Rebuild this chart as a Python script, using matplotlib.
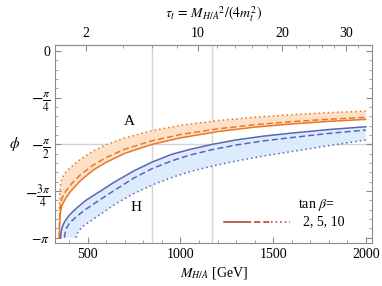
import numpy as np
import matplotlib
matplotlib.use("Agg")
import matplotlib.pyplot as plt
from matplotlib.ticker import MultipleLocator, FixedLocator

plt.rcParams['font.family'] = ['Liberation Serif', 'DejaVu Serif']
plt.rcParams['mathtext.fontset'] = 'stix'

mt = 173.0

# A (pseudoscalar), tan beta = 2 / 5 / 10
M_A = [346, 348, 352, 360, 380, 410, 460, 530, 600, 700, 845, 1000, 1200, 1400, 1600, 1800, 2000]
phi_A2 = [-3.14, -2.9, -2.72, -2.6, -2.48, -2.35, -2.18, -2.0, -1.87, -1.72, -1.571,
          -1.46, -1.355, -1.28, -1.226, -1.183, -1.149]
phi_A5 = [-3.14, -2.8, -2.6, -2.48, -2.36, -2.24, -2.08, -1.917, -1.79, -1.65, -1.51,
          -1.404, -1.308, -1.239, -1.187, -1.147, -1.115]
phi_A10 = [-2.65, -2.42, -2.27, -2.14, -2.04, -1.95, -1.82, -1.68, -1.575, -1.46, -1.34,
           -1.25, -1.17, -1.113, -1.07, -1.036, -1.009]

# H (scalar), tan beta = 2 / 5 / 10
M_H2 = [353, 356, 362, 375, 400, 440, 490, 566, 640, 746, 845, 950, 1050, 1169, 1300, 1450, 1600, 1800, 2000]
phi_H2 = [-3.14, -3.04, -2.96, -2.87, -2.76, -2.64, -2.51, -2.36, -2.21, -2.02, -1.87,
          -1.74, -1.655, -1.571, -1.495, -1.43, -1.38, -1.32, -1.273]
M_H5 = [374, 378, 385, 400, 440, 490, 566, 640, 746, 845, 950, 1050, 1169, 1300, 1450, 1600, 1800, 2000]
phi_H5 = [-3.14, -3.05, -2.98, -2.9, -2.78, -2.66, -2.5, -2.35, -2.14, -1.98, -1.85,
          -1.75, -1.66, -1.58, -1.51, -1.455, -1.385, -1.329]
M_H10 = [437, 442, 452, 470, 500, 566, 650, 746, 850, 950, 1050, 1165, 1300, 1450, 1593, 1800, 2000]
phi_H10 = [-3.14, -3.07, -3.02, -2.96, -2.89, -2.75, -2.57, -2.4, -2.25, -2.13, -2.03,
           -1.94, -1.85, -1.765, -1.694, -1.59, -1.497]

grid_M = [845, 1169]
grid_phi = [-np.pi / 2]

yticks = [0, -np.pi / 4, -np.pi / 2, -3 * np.pi / 4, -np.pi]
ylabels = ['0', r'$-\frac{\pi}{4}$', r'$-\frac{\pi}{2}$', r'$-\frac{3\pi}{4}$', r'$-\pi$']
xticks = [500, 1000, 1500, 2000]
tau_ticks = [2, 10, 20, 30]
tau_minor = [4, 6, 8, 12, 14, 16, 18, 22, 24, 26, 28, 32]

orange = '#e8782a'
orange_fill = '#fde0c6'
blue = '#5a66b4'
blue_fill = '#dcecfc'
frame = '#8c8c8c'

fig = plt.figure(figsize=(3.82, 2.86), dpi=100)
ax = fig.add_axes([0.144, 0.149, 0.830, 0.695])

for g in grid_M:
    ax.axvline(g, color='#d4d4d4', lw=1.0, zorder=0)
for g in grid_phi:
    ax.axhline(g, color='#d4d4d4', lw=1.0, zorder=0)

ax.fill(np.concatenate([M_A, M_A[::-1]]), np.concatenate([phi_A2, phi_A10[::-1]]),
        color=orange_fill, lw=0, zorder=1)
ax.fill(np.concatenate([M_H2, M_H10[::-1]]), np.concatenate([phi_H2, phi_H10[::-1]]),
        color=blue_fill, lw=0, zorder=1)

lw = 1.1
ax.plot(M_A, phi_A2, color=orange, lw=lw, zorder=3)
ax.plot(M_A, phi_A5, color=orange, lw=lw, ls=(0, (4, 2)), zorder=3)
ax.plot(M_A, phi_A10, color=orange, lw=lw, ls=(0, (1, 2)), zorder=3)
ax.plot(M_H2, phi_H2, color=blue, lw=lw, zorder=3)
ax.plot(M_H5, phi_H5, color=blue, lw=lw, ls=(0, (4, 2)), zorder=3)
ax.plot(M_H10, phi_H10, color=blue, lw=lw, ls=(0, (1, 2)), zorder=3)

ax.set_xlim(323, 2034)
ax.set_ylim(-np.pi - 0.094, 0.109)

ax.set_xticks(xticks)
ax.xaxis.set_minor_locator(MultipleLocator(100))
ax.set_yticks(yticks)
ax.set_yticklabels(ylabels)
ax.yaxis.set_minor_locator(MultipleLocator(np.pi / 20))
ax.tick_params(which='both', direction='in', color=frame, top=False, right=True,
               labelsize=10)
ax.tick_params(which='major', length=4, width=0.8)
ax.tick_params(which='minor', length=2, width=0.6)
for i, lbl in enumerate(ax.get_yticklabels()):
    lbl.set_fontsize(10 if i in (0, 4) else 12)
for s in ax.spines.values():
    s.set_color(frame)
    s.set_linewidth(0.8)

sec = ax.secondary_xaxis('top', functions=(lambda m: m ** 2 / (4 * mt ** 2),
                                           lambda t: 2 * mt * np.sqrt(np.clip(t, 0, None))))
sec.set_xticks(tau_ticks)
sec.xaxis.set_minor_locator(FixedLocator(tau_minor))
sec.tick_params(which='both', direction='in', color=frame, labelsize=10)
sec.tick_params(which='major', length=4, width=0.8)
sec.tick_params(which='minor', length=2, width=0.6)
sec.spines['top'].set_color(frame)
sec.set_xlabel(r'$\tau_t\,=\,{M_{H/A}}^2/(4m_t^2)$', fontsize=10, labelpad=6)

ax.set_xlabel(r'$M_{H/A}$ [GeV]', fontsize=10, labelpad=3)
ax.set_ylabel(r'$\phi$', fontsize=11, rotation=0, labelpad=7, va='center')

ax.text(0.236, 0.615, 'A', transform=ax.transAxes, fontsize=11, ha='center', va='center')
ax.text(0.257, 0.183, 'H', transform=ax.transAxes, fontsize=11, ha='center', va='center')

legc = '#a8392c'
ax.plot([0.533, 0.600], [0.109, 0.109], transform=ax.transAxes, color=legc, lw=lw)
ax.plot([0.600, 0.680], [0.109, 0.109], transform=ax.transAxes, color=legc, lw=lw, ls=(0, (4, 2)))
ax.plot([0.680, 0.742], [0.109, 0.109], transform=ax.transAxes, color=legc, lw=lw, ls=(0, (1, 2)))
ax.text(0.766, 0.193, r'tan $\beta$=', transform=ax.transAxes, fontsize=10, va='center')
ax.text(0.782, 0.109, '2, 5, 10', transform=ax.transAxes, fontsize=10, va='center')

fig.savefig('out.png', dpi=100)
